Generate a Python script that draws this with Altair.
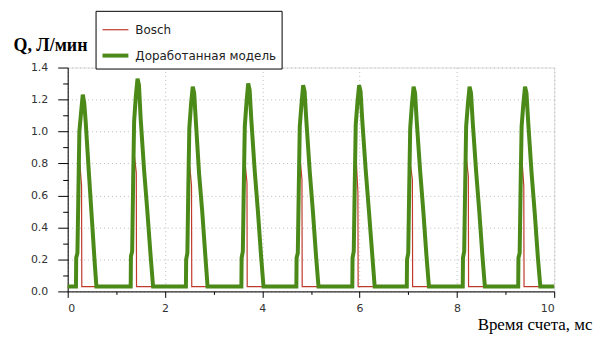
import altair as alt
import pandas as pd

SERIES = ["Bosch", "Доработанная модель"]
COLORS = ["#c0392b", "#4b8a19"]
WIDTHS = [1.2, 4.0]

X_TICKS = [0, 2, 4, 6, 8, 10]
X_MINOR = [1, 3, 5, 7, 9]
Y_TICKS = [0.0, 0.2, 0.4, 0.6, 0.8, 1.0, 1.2, 1.4]
Y_MINOR = [0.1, 0.3, 0.5, 0.7, 0.9, 1.1, 1.3]

GREEN_T = [0.0,
    0.17, 0.175, 0.20, 0.22, 0.24, 0.275, 0.31, 0.34, 0.37, 0.44, 0.50, 0.555, 0.59,
    1.295, 1.30, 1.325, 1.345, 1.365, 1.40, 1.435, 1.465, 1.50, 1.57, 1.635, 1.705, 1.755,
    2.43, 2.435, 2.46, 2.48, 2.50, 2.535, 2.57, 2.60, 2.635, 2.70, 2.765, 2.83, 2.875,
    3.57, 3.575, 3.60, 3.62, 3.64, 3.675, 3.71, 3.74, 3.775, 3.845, 3.91, 3.975, 4.025,
    4.70, 4.705, 4.73, 4.75, 4.77, 4.805, 4.84, 4.87, 4.905, 4.975, 5.04, 5.105, 5.155,
    5.85, 5.855, 5.88, 5.90, 5.92, 5.955, 5.99, 6.02, 6.055, 6.125, 6.19, 6.26, 6.31,
    6.97, 6.975, 7.00, 7.02, 7.04, 7.075, 7.11, 7.14, 7.175, 7.245, 7.31, 7.375, 7.425,
    8.12, 8.125, 8.15, 8.17, 8.19, 8.225, 8.26, 8.29, 8.325, 8.395, 8.46, 8.525, 8.575,
    9.26, 9.265, 9.29, 9.31, 9.33, 9.365, 9.40, 9.43, 9.465, 9.535, 9.60, 9.665, 9.715,
    10.0]
GREEN_Q = [0.03,
    0.03, 0.21, 0.24, 0.62, 1.00, 1.12, 1.23, 1.18, 1.06, 0.72, 0.44, 0.18, 0.03,
    0.03, 0.22, 0.25, 0.68, 1.06, 1.22, 1.33, 1.29, 1.08, 0.76, 0.51, 0.22, 0.03,
    0.03, 0.20, 0.24, 0.66, 1.02, 1.17, 1.28, 1.24, 1.06, 0.74, 0.50, 0.22, 0.03,
    0.03, 0.21, 0.25, 0.66, 1.03, 1.18, 1.30, 1.26, 1.07, 0.75, 0.50, 0.22, 0.03,
    0.03, 0.21, 0.24, 0.65, 1.03, 1.17, 1.29, 1.25, 1.07, 0.75, 0.50, 0.22, 0.03,
    0.03, 0.21, 0.25, 0.66, 1.04, 1.18, 1.29, 1.25, 1.07, 0.76, 0.51, 0.23, 0.03,
    0.03, 0.20, 0.24, 0.65, 1.02, 1.17, 1.28, 1.24, 1.06, 0.75, 0.50, 0.22, 0.03,
    0.03, 0.21, 0.25, 0.66, 1.03, 1.17, 1.28, 1.24, 1.06, 0.75, 0.50, 0.22, 0.03,
    0.03, 0.21, 0.24, 0.66, 1.03, 1.17, 1.28, 1.24, 1.06, 0.74, 0.49, 0.21, 0.03,
    0.03]

RED_T = [0.0,
    0.17, 0.18, 0.20, 0.22, 0.25, 0.285, 0.29,
    1.295, 1.305, 1.325, 1.345, 1.375, 1.41, 1.415,
    2.43, 2.44, 2.46, 2.48, 2.51, 2.545, 2.55,
    3.57, 3.58, 3.60, 3.62, 3.65, 3.685, 3.69,
    4.70, 4.71, 4.73, 4.75, 4.78, 4.815, 4.82,
    5.85, 5.86, 5.88, 5.90, 5.93, 5.965, 5.97,
    6.97, 6.98, 7.00, 7.02, 7.05, 7.085, 7.09,
    8.12, 8.13, 8.15, 8.17, 8.20, 8.235, 8.24,
    9.26, 9.27, 9.29, 9.31, 9.34, 9.375, 9.38,
    10.0]
RED_Q = [0.03,
    0.03, 0.20, 0.22, 0.50, 0.80, 0.66, 0.03,
    0.03, 0.20, 0.22, 0.52, 0.84, 0.74, 0.03,
    0.03, 0.19, 0.21, 0.48, 0.78, 0.66, 0.03,
    0.03, 0.20, 0.22, 0.50, 0.79, 0.68, 0.03,
    0.03, 0.20, 0.22, 0.51, 0.82, 0.70, 0.03,
    0.03, 0.20, 0.22, 0.52, 0.83, 0.62, 0.03,
    0.03, 0.20, 0.22, 0.48, 0.78, 0.70, 0.03,
    0.03, 0.20, 0.22, 0.51, 0.82, 0.72, 0.03,
    0.03, 0.20, 0.22, 0.50, 0.81, 0.66, 0.03,
    0.03]

red_df = pd.DataFrame({"t": RED_T, "q": RED_Q, "series": SERIES[0],
                       "idx": list(range(len(RED_T)))})
green_df = pd.DataFrame({"t": GREEN_T, "q": GREEN_Q, "series": SERIES[1],
                         "idx": list(range(len(GREEN_T)))})

color_scale = alt.Scale(domain=SERIES, range=COLORS)
width_scale = alt.Scale(domain=SERIES, range=WIDTHS)
legend = alt.Legend(title=None, orient="none", legendX=28, legendY=-57,
                    fillColor="white", strokeColor="black", padding=5,
                    symbolType="stroke", symbolSize=676, labelFont="DejaVu Sans",
                    labelFontSize=12, labelColor="#222", labelOffset=5, rowPadding=5)

xs = alt.Scale(domain=[0, 10], nice=False)
ys = alt.Scale(domain=[0, 1.4], nice=False)

x_major = alt.Axis(values=X_TICKS, format="d", tickSize=6, domainColor="black", tickColor="black",
                   grid=True, gridColor="#bdbdbd", gridDash=[1, 3], labelFont="DejaVu Sans",
                   labelFontSize=11, labelColor="#333", labelPadding=5, orient="bottom",
                   title="Время счета, мс", titleFont="Liberation Serif", titleFontSize=17,
                   titleFontWeight="normal", titleColor="black", titleAlign="right",
                   titleBaseline="alphabetic", titleX=527, titleY=38, titleAnchor="end")
y_major = alt.Axis(values=Y_TICKS, format=".1f", tickSize=10, domainColor="black", tickColor="black",
                   grid=True, gridColor="#bdbdbd", gridDash=[1, 3], labelFont="DejaVu Sans",
                   labelFontSize=11, labelColor="#333", labelPadding=10, orient="left",
                   title="Q, Л/мин", titleFont="Liberation Serif", titleFontSize=18,
                   titleFontWeight="bold", titleColor="black", titleAngle=0, titleAlign="left",
                   titleBaseline="alphabetic", titleX=-55, titleY=-17)
x_minor = alt.Axis(values=X_MINOR, labels=False, tickSize=3, domain=False, grid=False,
                   tickColor="black", title=None, orient="bottom")
y_minor = alt.Axis(values=Y_MINOR, labels=False, tickSize=5, domain=False, grid=False,
                   tickColor="black", title=None, orient="left")

red = alt.Chart(red_df).mark_line(interpolate="linear").encode(
    x=alt.X("t:Q", scale=xs, axis=x_minor),
    y=alt.Y("q:Q", scale=ys, axis=y_minor),
    order="idx:Q",
    color=alt.Color("series:N", scale=color_scale, legend=legend),
    strokeWidth=alt.StrokeWidth("series:N", scale=width_scale, legend=legend),
)
green = alt.Chart(green_df).mark_line(interpolate="linear").encode(
    x=alt.X("t:Q", scale=xs, axis=x_major),
    y=alt.Y("q:Q", scale=ys, axis=y_major),
    order="idx:Q",
    color=alt.Color("series:N", scale=color_scale, legend=legend),
    strokeWidth=alt.StrokeWidth("series:N", scale=width_scale, legend=legend),
)

chart = alt.layer(red, green).resolve_axis(x="independent", y="independent").properties(
    width=489, height=225,
    autosize=alt.AutoSizeParams(type="none"),
    padding={"left": 60, "top": 59, "right": 40, "bottom": 46},
).configure_view(stroke="#c8c8c8", strokeWidth=1).configure_legend(
    rowPadding=5, padding=5, labelFontSize=12
).configure_axisY(labelPadding=10).configure_axisX(labelPadding=5).configure(background="white")

chart.save("out.html", embed_options={"renderer": "svg", "actions": False})
